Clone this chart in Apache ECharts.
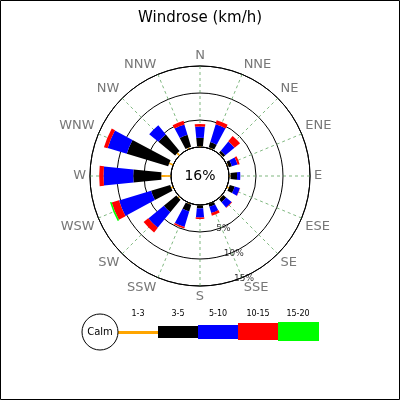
<!DOCTYPE html><html><head><meta charset="utf-8">
<script src="https://cdn.jsdelivr.net/npm/echarts@6/dist/echarts.min.js"></script>
<style>html,body{margin:0;padding:0;background:#fff}#c{width:400px;height:400px}</style></head><body><div id="c"></div>
<script>
const directions=['N','NNE','NE','ENE','E','ESE','SE','SSE','S','SSW','SW','WSW','W','WNW','NW','NNW'];
const speedClasses=['1-3','3-5','5-10','10-15','15-20'];
const s1_3  =[0.2,0.2,0.2,0.2,0.3,0.4,0.2,0.1,0.1,0.2,0.3,0.4,1.8,0.8,0.6,0.3];
const s3_5  =[1.5,1.0,0.5,0.6,1.2,0.95,0.7,0.5,0.55,1.3,3.0,3.7,5.2,8.0,4.0,2.3];
const s5_10 =[2.1,3.45,2.2,1.1,0.6,1.0,1.3,1.2,1.65,3.0,3.7,6.2,5.5,3.7,2.2,2.0];
const s10_15=[0.45,0.75,1.3,0.4,0,0.05,0.1,0.5,0.3,0.3,1.1,1.4,0.8,0.7,0,0.7];
const s15_20=[0,0,0,0,0,0,0,0,0,0,0,0.3,0,0,0,0];
const calmText='16%';
const ringTicks=[5,10,15];
const colors=['#FFA500','#000000','#0000FF','#FF0000','#00FF00'];
const widths=['14%','50%','50%','52%','55%'];
const classes=[s1_3,s3_5,s5_10,s10_15,s15_20];
const font='DejaVu Sans';
const polars=[],angleAxes=[],radiusAxes=[],series=[];
classes.forEach((vals,i)=>{
  const first=i===0;
  polars.push({center:[200,176],radius:[29,110]});
  angleAxes.push({polarIndex:i,type:'category',data:directions,boundaryGap:true,startAngle:101.25,clockwise:true,z:first?1:0,
    axisLine:{show:first,lineStyle:{color:'#000',width:1}},axisTick:{show:false},
    axisLabel:{show:first,color:'#777',fontSize:13,fontFamily:font,margin:4},
    splitLine:{show:false}});
  radiusAxes.push({polarIndex:i,min:0,max:15,interval:5,axisLine:{show:false},axisTick:{show:false},axisLabel:{show:false},
    splitLine:{show:first,lineStyle:{color:'#000',width:1}}});
  const base=directions.map((d,k)=>{let s=0;for(let j=0;j<i;j++)s+=classes[j][k];return s;});
  series.push({type:'bar',coordinateSystem:'polar',polarIndex:i,stack:'s'+i,barWidth:widths[i],data:base,itemStyle:{color:'rgba(0,0,0,0)'},silent:true,z:2});
  series.push({type:'bar',coordinateSystem:'polar',polarIndex:i,stack:'s'+i,barWidth:widths[i],name:speedClasses[i],data:vals,itemStyle:{color:colors[i]},z:3});
});
const spokeLen=[0,15];
directions.forEach(d=>{
  series.push({type:'line',coordinateSystem:'polar',polarIndex:0,data:spokeLen.map(v=>[v,d]),symbol:'none',silent:true,
    lineStyle:{color:'#4a9a4a',type:[3,3],width:0.7},z:1});
});
series.push({type:'scatter',coordinateSystem:'polar',polarIndex:0,symbolSize:0,data:ringTicks.map(v=>[v,'SSE']),
  label:{show:true,formatter:p=>p.value[0]+'%',color:'#000',fontSize:9,fontFamily:font,position:'inside',offset:[2,1]},z:5});
const chart=echarts.init(document.getElementById('c'));
chart.setOption({
  animation:false,backgroundColor:'#fff',
  title:{text:'Windrose (km/h)',left:'center',top:6,textStyle:{fontSize:15,fontWeight:'normal',color:'#000',fontFamily:font}},
  polar:polars,angleAxis:angleAxes,radiusAxis:radiusAxes,
  series:series,
  graphic:[
    {type:'rect',shape:{x:0.5,y:0.5,width:399,height:399},style:{fill:'none',stroke:'#000',lineWidth:1},z:-1},
    {type:'circle',shape:{cx:200,cy:176,r:29},style:{fill:'none',stroke:'#000',lineWidth:1},z:10},
    {type:'text',x:200,y:176,style:{text:calmText,fontSize:14,fontFamily:font,fill:'#000',align:'center',verticalAlign:'middle'},z:10},
    {type:'rect',shape:{x:118,y:331,width:40,height:3},style:{fill:colors[0]}},
    {type:'rect',shape:{x:158,y:326,width:40,height:12},style:{fill:colors[1]}},
    {type:'rect',shape:{x:198,y:325,width:40,height:14},style:{fill:colors[2]}},
    {type:'rect',shape:{x:238,y:323,width:40,height:17},style:{fill:colors[3]}},
    {type:'rect',shape:{x:278,y:322,width:41,height:19},style:{fill:colors[4]}},
    {type:'circle',shape:{cx:100,cy:332,r:18},style:{fill:'#fff',stroke:'#000',lineWidth:1},z:10},
    {type:'text',x:100,y:332,style:{text:'Calm',fontSize:10,fontFamily:font,fill:'#000',align:'center',verticalAlign:'middle'},z:11},
    ...speedClasses.map((t,i)=>({type:'text',x:138+40*i,y:314,style:{text:t,fontSize:8,fontFamily:font,fill:'#000',align:'center',verticalAlign:'middle'}}))
  ]
});
</script></body></html>
